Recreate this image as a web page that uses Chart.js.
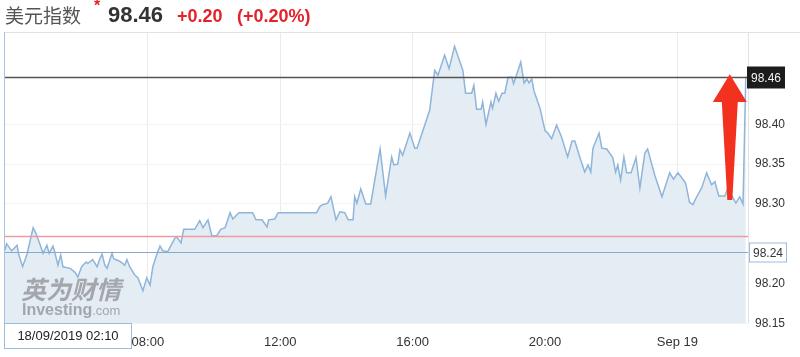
<!DOCTYPE html>
<html><head><meta charset="utf-8">
<script src="https://cdn.jsdelivr.net/npm/chart.js@4.4.1/dist/chart.umd.min.js"></script>
<style>
html,body{margin:0;padding:0;background:#fff;}
#wrap{position:relative;width:800px;height:357px;overflow:hidden;}
#c{position:absolute;left:0;top:0;}
.t{position:absolute;white-space:nowrap;font-family:"Liberation Sans",Arial,sans-serif;}
</style></head><body>
<div id="wrap">
<canvas id="c" width="800" height="357"></canvas>
<div class="t" style="left:5px;top:3px;font-family:'Noto Sans CJK SC';font-size:19px;line-height:24px;color:#555;">美元指数</div>
<div class="t" style="left:94px;top:-3px;font-size:16px;font-weight:bold;color:#e2232b;">*</div>
<div class="t" style="left:108px;top:4px;font-size:22px;line-height:22px;font-weight:bold;color:#333;">98.46</div>
<div class="t" style="left:177px;top:7px;font-size:18px;line-height:18px;font-weight:bold;color:#e2232b;">+0.20</div>
<div class="t" style="left:237px;top:7px;font-size:18px;line-height:18px;font-weight:bold;color:#e2232b;">(+0.20%)</div>
<div class="t" style="left:21px;top:276px;font-family:'Noto Sans CJK SC';font-size:25px;line-height:25px;font-weight:bold;font-style:italic;color:rgba(110,110,110,0.55);">英为财情</div>
<div class="t" style="left:22px;top:302px;font-size:16px;line-height:16px;color:rgba(110,110,110,0.55);"><b>Investing</b><span style="font-size:13px;">.com</span></div>
<div class="t" style="left:4px;top:323px;width:126px;height:24px;border:1px solid #9dbbdb;background:#fff;font-size:13px;line-height:24px;text-align:center;color:#222;">18/09/2019 02:10</div>
</div>
<script>
// minutes after 00:00 on 18/09/2019
const sessionMinutes = [221,224,233,243,246,253,261,272,277,284,
290,297,301,308,311,317,322,326,339,348,
353,360,368,371,380,388,393,397,402,406,
415,418,429,438,442,447,456,462,471,478,
484,489,496,502,507,516,529,533,540,545,
565,574,580,589,596,605,612,620,629,634,
645,670,676,687,696,699,710,716,786,792,
797,806,812,821,828,837,843,852,855,859,
866,875,884,901,911,922,926,933,937,942,
955,964,968,991,1000,1006,1018,1026,1036,1051,
1056,1067,1071,1076,1084,1087,1093,1102,1105,1111,
1116,1122,1127,1133,1140,1143,1156,1162,1167,1171,
1176,1180,1191,1200,1205,1212,1221,1230,1241,1249,
1254,1263,1272,1278,1283,1287,1298,1303,1312,1323,
1328,1332,1337,1343,1348,1356,1365,1372,1381,1386,
1399,1412,1426,1433,1441,1450,1455,1462,1468,1475,
1484,1493,1502,1508,1515,1526,1531,1539,1546,1553,
1559,1564];
const dxyValues = [98.242,98.250,98.241,98.248,98.236,98.221,98.237,98.270,98.263,98.250,
98.238,98.248,98.238,98.247,98.240,98.223,98.236,98.221,98.219,98.214,
98.208,98.221,98.227,98.225,98.230,98.221,98.231,98.237,98.223,98.219,
98.238,98.231,98.228,98.223,98.230,98.221,98.211,98.207,98.191,98.207,
98.198,98.221,98.236,98.247,98.241,98.240,98.257,98.258,98.251,98.268,
98.268,98.279,98.270,98.280,98.260,98.260,98.268,98.270,98.289,98.281,
98.289,98.289,98.280,98.280,98.271,98.280,98.281,98.289,98.289,98.297,
98.299,98.301,98.309,98.280,98.290,98.289,98.280,98.280,98.309,98.301,
98.319,98.300,98.300,98.369,98.310,98.359,98.349,98.350,98.368,98.361,
98.389,98.370,98.370,98.418,98.468,98.462,98.487,98.470,98.498,98.468,
98.439,98.439,98.449,98.419,98.419,98.428,98.400,98.428,98.420,98.439,
98.429,98.439,98.439,98.459,98.459,98.451,98.478,98.452,98.457,98.452,
98.457,98.442,98.420,98.392,98.389,98.382,98.399,98.384,98.359,98.379,
98.379,98.359,98.340,98.349,98.340,98.370,98.389,98.370,98.369,98.358,
98.340,98.349,98.330,98.359,98.339,98.339,98.358,98.320,98.364,98.369,
98.336,98.309,98.339,98.331,98.339,98.331,98.326,98.302,98.299,98.309,
98.320,98.339,98.324,98.328,98.310,98.310,98.319,98.310,98.301,98.309,
98.300,98.460];
const xTickMinutes = [480,720,960,1200,1440];
const xTickLabels = ["08:00","12:00","16:00","20:00","Sep 19"];
const yTickValues = [98.15,98.20,98.30,98.35,98.40];
const lastPrice = 98.46;
const prevClose = 98.26;
const markerLevel = 98.24;
const arrowMinute = 1535, arrowFrom = 98.305, arrowHeadBase = 98.428, arrowTip = 98.463;

const overlay = {
  id: 'overlay',
  afterDatasetsDraw(chart) {
    const {ctx, chartArea: a, scales: {x, y}} = chart;
    ctx.save();
    // frame
    ctx.lineWidth = 1;
    ctx.strokeStyle = '#e2e2e2';
    ctx.beginPath(); ctx.moveTo(a.left, Math.round(a.top) + 0.5); ctx.lineTo(800, Math.round(a.top) + 0.5); ctx.stroke();
    ctx.beginPath(); ctx.moveTo(Math.round(a.right) + 0.5, a.top); ctx.lineTo(Math.round(a.right) + 0.5, a.bottom); ctx.stroke();
    ctx.strokeStyle = '#a9c3de';
    ctx.beginPath(); ctx.moveTo(Math.round(a.left) - 0.5, a.top); ctx.lineTo(Math.round(a.left) - 0.5, a.bottom); ctx.stroke();
    const hline = (v, color, w) => {
      const py = Math.round(y.getPixelForValue(v)) + 0.5;
      ctx.strokeStyle = color; ctx.lineWidth = w;
      ctx.beginPath(); ctx.moveTo(a.left, py); ctx.lineTo(a.right, py); ctx.stroke();
      return py;
    };
    hline(prevClose, '#ec9aa0', 1.5);
    const pb = hline(markerLevel, '#86a9cf', 1.2);
    const pk = hline(lastPrice, '#555', 1.5);
    // price labels
    ctx.font = '12px "Liberation Sans", Arial, sans-serif';
    ctx.textBaseline = 'middle'; ctx.textAlign = 'left';
    ctx.fillStyle = '#1c1c1c';
    ctx.fillRect(a.right - 1, pk - 11, 38, 22);
    ctx.fillStyle = '#f2f2f2';
    ctx.fillText(lastPrice.toFixed(2), a.right + 3, pk + 1);
    ctx.fillStyle = '#fff';
    ctx.fillRect(a.right + 1, pb - 10, 38, 20);
    ctx.strokeStyle = '#9dbbdb'; ctx.lineWidth = 1;
    ctx.strokeRect(a.right + 1.5, pb - 9.5, 37, 19);
    ctx.fillStyle = '#333';
    ctx.fillText(markerLevel.toFixed(2), a.right + 5, pb + 1);
    // red arrow annotation
    const ax = x.getPixelForValue(arrowMinute);
    const yb = y.getPixelForValue(arrowFrom);
    const yh = y.getPixelForValue(arrowHeadBase);
    const yt = y.getPixelForValue(arrowTip);
    ctx.fillStyle = '#f2321e';
    ctx.beginPath();
    ctx.moveTo(ax - 2.5, yb);
    ctx.lineTo(ax - 8, yh);
    ctx.lineTo(ax - 17, yh);
    ctx.lineTo(ax, yt);
    ctx.lineTo(ax + 17, yh);
    ctx.lineTo(ax + 8, yh);
    ctx.lineTo(ax + 2.5, yb);
    ctx.closePath();
    ctx.fill();
    ctx.restore();
  }
};

new Chart(document.getElementById('c'), {
  type: 'line',
  data: {
    datasets: [{
      data: sessionMinutes.map((m, i) => ({x: m, y: dxyValues[i]})),
      borderColor: '#8fb5da',
      borderWidth: 1.5,
      backgroundColor: 'rgb(228,236,244)',
      fill: 'start',
      pointRadius: 0,
      tension: 0
    }]
  },
  options: {
    responsive: false,
    devicePixelRatio: 1,
    animation: false,
    layout: {padding: {top: 32, left: 5, right: 0, bottom: 0}},
    plugins: {legend: {display: false}, tooltip: {enabled: false}},
    scales: {
      x: {
        type: 'linear', min: 221, max: 1568,
        afterBuildTicks: s => { s.ticks = xTickMinutes.map(v => ({value: v})); },
        afterFit: s => { s.height = 33.5; },
        ticks: {
          callback: v => xTickLabels[xTickMinutes.indexOf(v)],
          color: '#333', font: {family: '"Liberation Sans", Arial', size: 13},
          padding: 11, maxRotation: 0, autoSkip: false
        },
        grid: {color: '#ebebeb', drawTicks: false},
        border: {display: false}
      },
      y: {
        position: 'right', min: 98.1497, max: 98.516,
        afterBuildTicks: s => { s.ticks = yTickValues.map(v => ({value: v})); },
        afterFit: s => { s.width = 52; },
        ticks: {
          callback: v => Number(v).toFixed(2),
          color: '#333', font: {family: '"Liberation Sans", Arial', size: 12},
          padding: 7
        },
        grid: {color: '#f3f3f3', drawTicks: false},
        border: {display: false}
      }
    }
  },
  plugins: [overlay]
});
</script>
</body></html>
